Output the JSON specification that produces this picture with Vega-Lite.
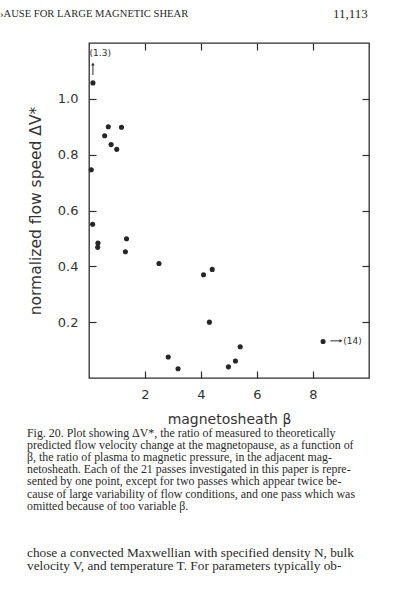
{
  "$schema": "https://vega.github.io/schema/vega-lite/v6.json",
  "width": 280,
  "height": 335,
  "autosize": {"type": "none"},
  "padding": {"left": 89, "top": 43, "right": 24, "bottom": 222},
  "background": "#ffffff",
  "config": {
    "view": {"stroke": "#2e2e2e", "strokeWidth": 1.3},
    "axis": {
      "domain": false,
      "grid": false,
      "tickColor": "#2e2e2e",
      "tickWidth": 1.2,
      "tickSize": -7,
      "labelFont": "DejaVu Sans",
      "labelFontSize": 13,
      "labelColor": "#333333",
      "titleFont": "DejaVu Sans",
      "titleFontSize": 14,
      "titleFontWeight": "normal",
      "titleColor": "#333333"
    }
  },
  "title": {
    "text": [
      "\u00a0\u00a0Fig. 20.   Plot showing \u0394V*, the ratio of measured to theoretically",
      "predicted flow velocity change at the magnetopause, as a function of",
      "\u03b2, the ratio of plasma to magnetic pressure, in the adjacent mag-",
      "netosheath. Each of the 21 passes investigated in this paper is repre-",
      "sented by one point, except for two passes which appear twice be-",
      "cause of large variability of flow conditions, and one pass which was",
      "omitted because of too variable \u03b2."
    ],
    "subtitle": [
      "chose a convected Maxwellian with specified density N, bulk",
      "velocity V, and temperature T. For parameters typically ob-"
    ],
    "orient": "bottom",
    "anchor": "start",
    "frame": "group",
    "dx": -62,
    "offset": 2,
    "font": "Liberation Serif",
    "fontSize": 11.9,
    "fontWeight": "normal",
    "lineHeight": 12.1,
    "color": "#2a2a2a",
    "subtitleFont": "Liberation Serif",
    "subtitleFontSize": 13.3,
    "subtitleLineHeight": 13,
    "subtitleColor": "#2a2a2a",
    "subtitlePadding": 33
  },
  "datasets": {
    "passes": [
      {"beta": 0.14, "dv": 1.057},
      {"beta": 0.08, "dv": 0.746},
      {"beta": 0.56, "dv": 0.868},
      {"beta": 0.69, "dv": 0.9},
      {"beta": 0.79, "dv": 0.836},
      {"beta": 0.99, "dv": 0.819},
      {"beta": 1.16, "dv": 0.898},
      {"beta": 0.13, "dv": 0.551},
      {"beta": 0.32, "dv": 0.483},
      {"beta": 0.31, "dv": 0.468},
      {"beta": 1.34, "dv": 0.499},
      {"beta": 1.3, "dv": 0.452},
      {"beta": 2.5, "dv": 0.41},
      {"beta": 2.83, "dv": 0.075},
      {"beta": 3.18, "dv": 0.033},
      {"beta": 4.09, "dv": 0.37},
      {"beta": 4.4, "dv": 0.389},
      {"beta": 4.3, "dv": 0.2},
      {"beta": 4.98, "dv": 0.04},
      {"beta": 5.23, "dv": 0.061},
      {"beta": 5.4, "dv": 0.112},
      {"beta": 8.36, "dv": 0.131}
    ]
  },
  "layer": [
    {
      "data": {"name": "passes"},
      "mark": {"type": "circle", "size": 26, "color": "#262626", "opacity": 1},
      "encoding": {
        "x": {
          "field": "beta",
          "type": "quantitative",
          "scale": {"domain": [0, 10], "nice": false, "zero": false},
          "axis": {"orient": "bottom", "values": [2, 4, 6, 8], "title": "magnetosheath \u03b2", "titlePadding": 11, "labelPadding": 17}
        },
        "y": {
          "field": "dv",
          "type": "quantitative",
          "scale": {"domain": [0, 1.2], "nice": false, "zero": false},
          "axis": {"orient": "left", "values": [0.2, 0.4, 0.6, 0.8, 1.0], "format": ".1f", "title": "normalized flow speed \u0394V*", "titleFontSize": 15.5, "titlePadding": 14, "labelPadding": 18}
        }
      }
    },
    {
      "data": {"name": "passes"},
      "mark": {"type": "point", "opacity": 0},
      "encoding": {
        "x": {"field": "beta", "type": "quantitative", "axis": {"orient": "top", "values": [2, 4, 6, 8], "labels": false, "title": null}},
        "y": {"field": "dv", "type": "quantitative", "axis": {"orient": "right", "values": [0.2, 0.4, 0.6, 0.8, 1.0], "labels": false, "title": null}}
      }
    },
    {
      "data": {"values": [{"beta": 0.14, "dv": 1.085, "dv_end": 1.125}]},
      "mark": {"type": "rule", "color": "#2e2e2e", "strokeWidth": 1},
      "encoding": {
        "x": {"field": "beta", "type": "quantitative", "axis": null},
        "y": {"field": "dv", "type": "quantitative", "axis": null},
        "y2": {"field": "dv_end"}
      }
    },
    {
      "data": {"values": [{"beta": 8.62, "beta_end": 9.0, "dv": 0.133}]},
      "mark": {"type": "rule", "color": "#2e2e2e", "strokeWidth": 1},
      "encoding": {
        "x": {"field": "beta", "type": "quantitative", "axis": null},
        "x2": {"field": "beta_end"},
        "y": {"field": "dv", "type": "quantitative", "axis": null}
      }
    },
    {
      "data": {"values": [
        {"beta": 0.14, "dv": 1.125, "shape": "triangle-up"},
        {"beta": 9.0, "dv": 0.133, "shape": "triangle-right"}
      ]},
      "mark": {"type": "point", "filled": true, "size": 12, "color": "#2e2e2e", "opacity": 1},
      "encoding": {
        "x": {"field": "beta", "type": "quantitative", "axis": null},
        "y": {"field": "dv", "type": "quantitative", "axis": null},
        "shape": {"field": "shape", "type": "nominal", "scale": null}
      }
    },
    {
      "data": {"values": [
        {"label": "(1.3)", "beta": 0.02, "dv": 1.164},
        {"label": "(14)", "beta": 9.08, "dv": 0.133}
      ]},
      "mark": {"type": "text", "align": "left", "baseline": "middle", "font": "DejaVu Sans", "fontSize": 9, "color": "#2e2e2e"},
      "encoding": {
        "x": {"field": "beta", "type": "quantitative", "axis": null},
        "y": {"field": "dv", "type": "quantitative", "axis": null},
        "text": {"field": "label"}
      }
    },
    {
      "data": {"values": [{"label": "\u203aAUSE FOR LARGE MAGNETIC SHEAR", "beta": -3.18, "dv": 1.305}]},
      "mark": {"type": "text", "align": "left", "baseline": "middle", "font": "Liberation Serif", "fontSize": 10.6, "color": "#2a2a2a", "clip": false},
      "encoding": {
        "x": {"field": "beta", "type": "quantitative", "axis": null},
        "y": {"field": "dv", "type": "quantitative", "axis": null},
        "text": {"field": "label"}
      }
    },
    {
      "data": {"values": [{"label": "11,113", "beta": 9.96, "dv": 1.305}]},
      "mark": {"type": "text", "align": "right", "baseline": "middle", "font": "Liberation Serif", "fontSize": 13, "color": "#2a2a2a", "clip": false},
      "encoding": {
        "x": {"field": "beta", "type": "quantitative", "axis": null},
        "y": {"field": "dv", "type": "quantitative", "axis": null},
        "text": {"field": "label"}
      }
    }
  ],
  "resolve": {"axis": {"x": "independent", "y": "independent"}}
}
